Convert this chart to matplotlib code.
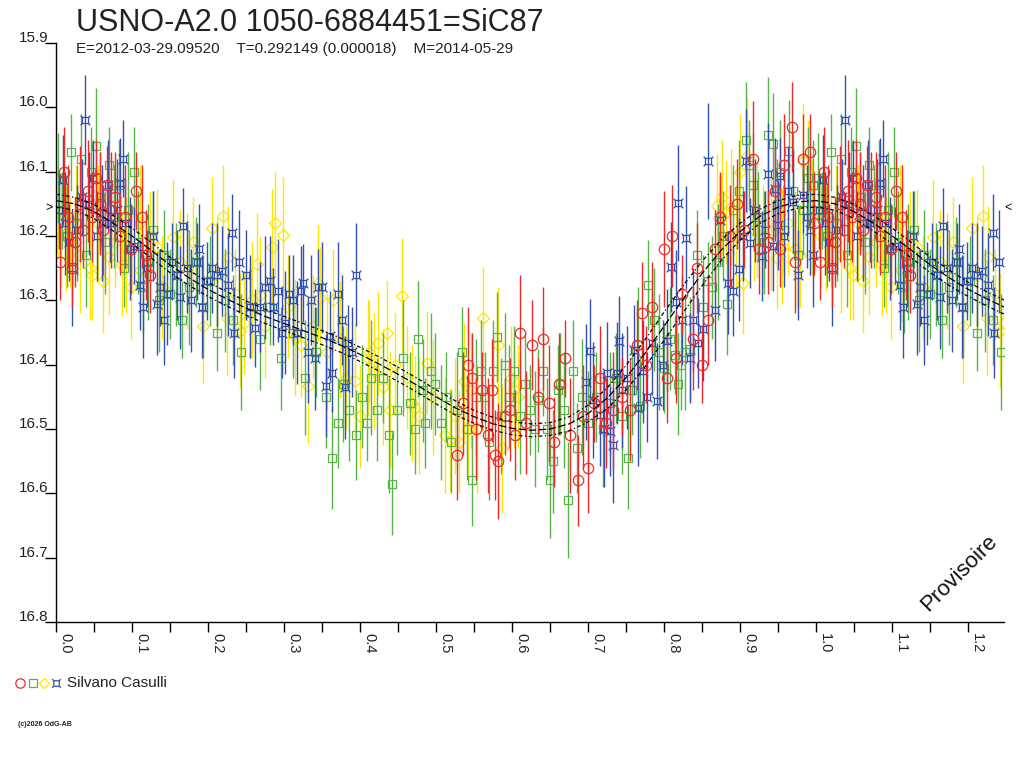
import numpy as np
import matplotlib
matplotlib.use("Agg")
import matplotlib.pyplot as plt
from matplotlib.path import Path
from matplotlib.lines import Line2D
from matplotlib import transforms

plt.rcParams['font.family'] = ['Liberation Sans', 'DejaVu Sans']

TITLE = "USNO-A2.0 1050-6884451=SiC87"
SUBTITLE = "E=2012-03-29.09520    T=0.292149 (0.000018)    M=2014-05-29"
OBSERVER = "Silvano Casulli"

# observations: (phase, magnitude, error)
red_obs = [
    (0.005, 16.24, 0.06), (0.010, 16.10, 0.07), (0.016, 16.17, 0.08), (0.021, 16.25, 0.06),
    (0.025, 16.21, 0.07), (0.031, 16.15, 0.09), (0.036, 16.19, 0.06), (0.042, 16.13, 0.08),
    (0.047, 16.17, 0.07), (0.052, 16.11, 0.06), (0.058, 16.15, 0.08), (0.062, 16.19, 0.07),
    (0.067, 16.12, 0.06), (0.072, 16.16, 0.09), (0.078, 16.14, 0.07), (0.084, 16.20, 0.06),
    (0.091, 16.17, 0.08), (0.099, 16.22, 0.07), (0.105, 16.13, 0.06), (0.113, 16.17, 0.08),
    (0.118, 16.23, 0.07), (0.123, 16.26, 0.06),
    (0.528, 16.54, 0.07), (0.535, 16.46, 0.08), (0.542, 16.40, 0.09), (0.547, 16.42, 0.07),
    (0.553, 16.50, 0.08), (0.561, 16.44, 0.06), (0.568, 16.51, 0.09), (0.574, 16.44, 0.08),
    (0.578, 16.54, 0.07), (0.582, 16.55, 0.09), (0.590, 16.48, 0.06), (0.597, 16.47, 0.08),
    (0.604, 16.51, 0.07), (0.611, 16.35, 0.09), (0.618, 16.49, 0.08), (0.626, 16.37, 0.07),
    (0.634, 16.45, 0.06), (0.641, 16.36, 0.08), (0.648, 16.46, 0.09), (0.655, 16.52, 0.07),
    (0.662, 16.43, 0.08), (0.669, 16.39, 0.06), (0.676, 16.51, 0.09), (0.686, 16.58, 0.07),
    (0.693, 16.48, 0.08), (0.700, 16.56, 0.07), (0.708, 16.46, 0.06), (0.716, 16.42, 0.08),
    (0.724, 16.49, 0.07), (0.733, 16.47, 0.09), (0.745, 16.45, 0.06), (0.755, 16.47, 0.08),
    (0.764, 16.37, 0.07), (0.771, 16.32, 0.08), (0.776, 16.40, 0.06), (0.784, 16.31, 0.07),
    (0.800, 16.22, 0.09), (0.804, 16.42, 0.07), (0.810, 16.20, 0.08), (0.815, 16.39, 0.07),
    (0.823, 16.29, 0.06), (0.838, 16.36, 0.08), (0.843, 16.25, 0.07), (0.850, 16.40, 0.06),
    (0.858, 16.33, 0.07),
    (0.867, 16.22, 0.06), (0.874, 16.17, 0.07), (0.887, 16.20, 0.08), (0.896, 16.15, 0.07),
    (0.905, 16.19, 0.06), (0.917, 16.08, 0.09), (0.925, 16.22, 0.07), (0.937, 16.21, 0.08),
    (0.946, 16.13, 0.07), (0.953, 16.22, 0.06), (0.958, 16.09, 0.08), (0.968, 16.03, 0.07),
    (0.972, 16.24, 0.08), (0.983, 16.08, 0.07), (0.992, 16.07, 0.06), (0.997, 16.18, 0.08),
]

green_obs = [
    (0.002, 16.11, 0.07), (0.008, 16.16, 0.06), (0.014, 16.20, 0.08), (0.020, 16.07, 0.06),
    (0.027, 16.18, 0.09), (0.033, 16.08, 0.07), (0.040, 16.23, 0.08), (0.046, 16.10, 0.07),
    (0.052, 16.06, 0.09), (0.058, 16.14, 0.07), (0.064, 16.21, 0.08), (0.070, 16.09, 0.06),
    (0.076, 16.17, 0.08), (0.083, 16.12, 0.07), (0.089, 16.25, 0.06), (0.095, 16.16, 0.09),
    (0.102, 16.10, 0.07), (0.108, 16.21, 0.08), (0.115, 16.28, 0.07), (0.121, 16.24, 0.09),
    (0.128, 16.19, 0.06), (0.135, 16.30, 0.08), (0.142, 16.23, 0.07), (0.150, 16.29, 0.07),
    (0.158, 16.26, 0.08), (0.166, 16.33, 0.06), (0.175, 16.28, 0.09), (0.184, 16.24, 0.07),
    (0.193, 16.31, 0.08), (0.202, 16.27, 0.07), (0.212, 16.35, 0.06), (0.222, 16.30, 0.08),
    (0.233, 16.33, 0.07), (0.243, 16.38, 0.09),
    (0.255, 16.32, 0.07), (0.268, 16.36, 0.08), (0.281, 16.31, 0.06), (0.296, 16.39, 0.08),
    (0.312, 16.35, 0.07), (0.328, 16.42, 0.09), (0.342, 16.38, 0.07), (0.355, 16.45, 0.08),
    (0.363, 16.545, 0.08), (0.371, 16.49, 0.07), (0.378, 16.43, 0.09), (0.386, 16.47, 0.08),
    (0.394, 16.51, 0.07), (0.402, 16.45, 0.08), (0.409, 16.49, 0.06), (0.415, 16.42, 0.09),
    (0.422, 16.47, 0.08), (0.430, 16.42, 0.07), (0.438, 16.51, 0.09), (0.442, 16.585, 0.08),
    (0.449, 16.47, 0.07), (0.457, 16.39, 0.09), (0.465, 16.46, 0.08), (0.472, 16.50, 0.07),
    (0.476, 16.36, 0.09), (0.483, 16.44, 0.08), (0.486, 16.49, 0.07), (0.493, 16.41, 0.09),
    (0.499, 16.43, 0.08),
    (0.506, 16.49, 0.09), (0.513, 16.45, 0.07), (0.520, 16.52, 0.08), (0.527, 16.47, 0.09),
    (0.534, 16.38, 0.07), (0.540, 16.50, 0.08), (0.547, 16.58, 0.07), (0.553, 16.45, 0.09),
    (0.559, 16.41, 0.08), (0.564, 16.45, 0.07), (0.570, 16.52, 0.09), (0.575, 16.41, 0.08),
    (0.580, 16.357, 0.07), (0.586, 16.48, 0.09), (0.590, 16.40, 0.08), (0.596, 16.45, 0.08),
    (0.603, 16.41, 0.07), (0.610, 16.48, 0.09), (0.617, 16.43, 0.08), (0.624, 16.47, 0.07),
    (0.630, 16.50, 0.09), (0.634, 16.455, 0.08), (0.640, 16.41, 0.07), (0.646, 16.50, 0.08),
    (0.650, 16.58, 0.09), (0.654, 16.55, 0.08), (0.660, 16.44, 0.07), (0.663, 16.43, 0.08),
    (0.668, 16.47, 0.09), (0.674, 16.61, 0.09), (0.680, 16.41, 0.08), (0.685, 16.53, 0.07),
    (0.692, 16.45, 0.09), (0.700, 16.49, 0.08), (0.710, 16.45, 0.07), (0.720, 16.50, 0.09),
    (0.729, 16.46, 0.08), (0.737, 16.42, 0.07), (0.745, 16.48, 0.09), (0.753, 16.545, 0.08),
    (0.758, 16.44, 0.07), (0.766, 16.37, 0.09),
    (0.768, 16.465, 0.08), (0.779, 16.276, 0.07), (0.786, 16.33, 0.08), (0.793, 16.38, 0.09),
    (0.800, 16.405, 0.07), (0.808, 16.36, 0.08), (0.814, 16.385, 0.06), (0.818, 16.43, 0.08),
    (0.822, 16.40, 0.07), (0.828, 16.38, 0.09), (0.834, 16.375, 0.08), (0.843, 16.23, 0.07),
    (0.851, 16.31, 0.08), (0.858, 16.27, 0.06), (0.863, 16.28, 0.08), (0.871, 16.24, 0.09),
    (0.878, 16.20, 0.07), (0.883, 16.305, 0.08), (0.891, 16.16, 0.07), (0.899, 16.13, 0.08),
    (0.907, 16.05, 0.09), (0.912, 16.09, 0.07), (0.917, 16.12, 0.08), (0.924, 16.17, 0.07),
    (0.931, 16.21, 0.08), (0.937, 16.043, 0.09), (0.943, 16.057, 0.08), (0.948, 16.15, 0.07),
    (0.953, 16.10, 0.08), (0.958, 16.19, 0.07), (0.964, 16.068, 0.08), (0.970, 16.13, 0.09),
    (0.976, 16.23, 0.08), (0.982, 16.16, 0.07), (0.989, 16.11, 0.08), (0.996, 16.12, 0.07),
]

yellow_obs = [
    (0.003, 16.163, 0.07), (0.006, 16.20, 0.08), (0.013, 16.195, 0.09), (0.019, 16.21, 0.07),
    (0.026, 16.17, 0.08), (0.032, 16.23, 0.09), (0.045, 16.25, 0.08), (0.048, 16.26, 0.07),
    (0.055, 16.18, 0.09), (0.062, 16.27, 0.08), (0.070, 16.233, 0.09), (0.078, 16.21, 0.07),
    (0.087, 16.245, 0.08), (0.092, 16.23, 0.09), (0.098, 16.28, 0.08), (0.110, 16.18, 0.09),
    (0.111, 16.253, 0.08), (0.124, 16.20, 0.07), (0.133, 16.217, 0.09), (0.140, 16.28, 0.08),
    (0.154, 16.202, 0.09), (0.163, 16.24, 0.08), (0.172, 16.255, 0.09), (0.180, 16.21, 0.07),
    (0.193, 16.34, 0.09), (0.205, 16.188, 0.08), (0.212, 16.26, 0.09), (0.220, 16.169, 0.08),
    (0.225, 16.328, 0.09), (0.226, 16.233, 0.08), (0.235, 16.29, 0.07), (0.242, 16.347, 0.09),
    (0.247, 16.335, 0.08),
    (0.258, 16.30, 0.09), (0.264, 16.244, 0.08), (0.268, 16.292, 0.09), (0.275, 16.34, 0.08),
    (0.284, 16.217, 0.09), (0.288, 16.18, 0.08), (0.299, 16.199, 0.09), (0.305, 16.31, 0.08),
    (0.315, 16.357, 0.09), (0.322, 16.37, 0.08), (0.332, 16.433, 0.09), (0.338, 16.34, 0.08),
    (0.345, 16.273, 0.09), (0.347, 16.297, 0.08), (0.356, 16.38, 0.09), (0.365, 16.30, 0.08),
    (0.374, 16.36, 0.09), (0.382, 16.42, 0.08), (0.393, 16.425, 0.09), (0.400, 16.48, 0.08),
    (0.410, 16.39, 0.09), (0.412, 16.38, 0.08), (0.418, 16.41, 0.09), (0.424, 16.367, 0.08),
    (0.430, 16.435, 0.09), (0.435, 16.35, 0.08), (0.440, 16.47, 0.09), (0.446, 16.40, 0.08),
    (0.455, 16.293, 0.09), (0.462, 16.42, 0.08), (0.468, 16.46, 0.09), (0.472, 16.467, 0.08),
    (0.478, 16.48, 0.09), (0.488, 16.397, 0.08), (0.496, 16.45, 0.09),
    (0.512, 16.51, 0.09), (0.518, 16.517, 0.08), (0.525, 16.48, 0.09), (0.530, 16.52, 0.08),
    (0.537, 16.426, 0.09), (0.542, 16.50, 0.08), (0.546, 16.44, 0.09), (0.554, 16.50, 0.10),
    (0.562, 16.328, 0.08), (0.582, 16.37, 0.09), (0.587, 16.53, 0.10), (0.598, 16.42, 0.08),
    (0.603, 16.44, 0.09), (0.608, 16.45, 0.08),
    (0.870, 16.153, 0.08), (0.876, 16.14, 0.09), (0.881, 16.163, 0.08), (0.888, 16.155, 0.09),
    (0.894, 16.20, 0.08), (0.900, 16.10, 0.09), (0.904, 16.273, 0.08), (0.909, 16.076, 0.09),
    (0.918, 16.19, 0.08), (0.922, 16.175, 0.09), (0.930, 16.20, 0.08), (0.940, 16.194, 0.09),
    (0.949, 16.234, 0.08), (0.955, 16.215, 0.09), (0.963, 16.18, 0.08), (0.972, 16.22, 0.09),
    (0.979, 16.23, 0.08), (0.983, 16.083, 0.09), (0.989, 16.10, 0.08), (0.995, 16.17, 0.09),
]

blue_obs = [
    (0.004, 16.16, 0.06), (0.009, 16.113, 0.07), (0.012, 16.18, 0.08), (0.017, 16.21, 0.06),
    (0.021, 16.25, 0.09), (0.027, 16.19, 0.07), (0.034, 16.14, 0.06), (0.038, 16.02, 0.07),
    (0.043, 16.15, 0.08), (0.049, 16.11, 0.06), (0.054, 16.20, 0.07), (0.058, 16.165, 0.06),
    (0.061, 16.18, 0.09), (0.068, 16.12, 0.07), (0.071, 16.18, 0.06), (0.080, 16.16, 0.08),
    (0.084, 16.118, 0.07), (0.088, 16.08, 0.06), (0.091, 16.18, 0.07), (0.097, 16.22, 0.08),
    (0.103, 16.215, 0.06), (0.110, 16.276, 0.07), (0.114, 16.31, 0.08), (0.120, 16.25, 0.06),
    (0.127, 16.20, 0.07), (0.133, 16.305, 0.08), (0.137, 16.28, 0.06), (0.142, 16.33, 0.07),
    (0.146, 16.29, 0.08), (0.152, 16.24, 0.06), (0.159, 16.26, 0.07), (0.163, 16.295, 0.08),
    (0.167, 16.185, 0.06), (0.172, 16.25, 0.07), (0.178, 16.30, 0.08), (0.185, 16.24, 0.06),
    (0.188, 16.22, 0.07), (0.192, 16.31, 0.08), (0.198, 16.27, 0.06), (0.205, 16.25, 0.07),
    (0.212, 16.26, 0.08), (0.218, 16.255, 0.07), (0.226, 16.276, 0.08), (0.232, 16.195, 0.06),
    (0.234, 16.35, 0.07), (0.241, 16.24, 0.08),
    (0.250, 16.26, 0.07), (0.255, 16.31, 0.08), (0.262, 16.343, 0.06), (0.268, 16.31, 0.07),
    (0.275, 16.28, 0.08), (0.282, 16.27, 0.07), (0.286, 16.31, 0.06), (0.292, 16.285, 0.08),
    (0.297, 16.35, 0.07), (0.301, 16.335, 0.08), (0.306, 16.29, 0.06), (0.312, 16.30, 0.07),
    (0.317, 16.35, 0.08), (0.322, 16.285, 0.07), (0.325, 16.273, 0.06), (0.331, 16.38, 0.08),
    (0.336, 16.30, 0.07), (0.341, 16.39, 0.08), (0.345, 16.28, 0.06), (0.350, 16.28, 0.07),
    (0.355, 16.433, 0.08), (0.360, 16.356, 0.07), (0.363, 16.413, 0.06), (0.371, 16.29, 0.08),
    (0.376, 16.33, 0.07), (0.380, 16.435, 0.08), (0.384, 16.367, 0.06), (0.389, 16.38, 0.07),
    (0.395, 16.26, 0.08),
    (0.697, 16.427, 0.09), (0.703, 16.378, 0.08), (0.706, 16.455, 0.09), (0.716, 16.478, 0.08),
    (0.721, 16.50, 0.09), (0.725, 16.413, 0.08), (0.729, 16.503, 0.07), (0.733, 16.525, 0.09),
    (0.738, 16.413, 0.08), (0.740, 16.363, 0.07), (0.744, 16.44, 0.09), (0.751, 16.42, 0.08),
    (0.760, 16.377, 0.07), (0.766, 16.468, 0.09), (0.772, 16.41, 0.08), (0.778, 16.45, 0.07),
    (0.784, 16.367, 0.08), (0.790, 16.457, 0.09), (0.798, 16.40, 0.07), (0.804, 16.363, 0.08),
    (0.809, 16.248, 0.07), (0.815, 16.302, 0.08), (0.818, 16.149, 0.09), (0.824, 16.33, 0.07),
    (0.829, 16.203, 0.08), (0.834, 16.39, 0.07), (0.838, 16.33, 0.08), (0.845, 16.367, 0.07),
    (0.851, 16.345, 0.08),
    (0.858, 16.083, 0.09), (0.867, 16.315, 0.08), (0.874, 16.175, 0.07), (0.884, 16.273, 0.08),
    (0.891, 16.285, 0.07), (0.899, 16.252, 0.08), (0.904, 16.20, 0.07), (0.908, 16.083, 0.08),
    (0.913, 16.211, 0.07), (0.920, 16.16, 0.08), (0.929, 16.231, 0.07), (0.933, 16.19, 0.06),
    (0.937, 16.104, 0.08), (0.943, 16.215, 0.07), (0.946, 16.127, 0.08), (0.950, 16.183, 0.07),
    (0.953, 16.107, 0.06), (0.958, 16.20, 0.08), (0.963, 16.13, 0.07), (0.970, 16.147, 0.08),
    (0.976, 16.26, 0.07), (0.983, 16.136, 0.06), (0.988, 16.17, 0.08), (0.992, 16.19, 0.07),
    (0.996, 16.23, 0.08),
]

# fitted light curve (phase, mag, uncertainty)
fit_phase = [0.000, 0.025, 0.050, 0.075, 0.100, 0.125, 0.150, 0.175, 0.200, 0.225,
             0.250, 0.275, 0.300, 0.325, 0.350, 0.375, 0.400, 0.425, 0.450, 0.475,
             0.500, 0.525, 0.550, 0.575, 0.600, 0.625, 0.650, 0.675, 0.700, 0.725,
             0.750, 0.775, 0.800, 0.825, 0.850, 0.875, 0.900, 0.925, 0.950, 0.975]
fit_mag = [16.145, 16.150, 16.162, 16.180, 16.200, 16.222, 16.245, 16.265, 16.283, 16.298,
           16.312, 16.325, 16.336, 16.347, 16.358, 16.370, 16.384, 16.399, 16.415, 16.432,
           16.450, 16.467, 16.481, 16.492, 16.499, 16.502, 16.500, 16.492, 16.476, 16.452,
           16.420, 16.382, 16.340, 16.298, 16.258, 16.222, 16.193, 16.170, 16.155, 16.147]
fit_err = [0.010, 0.010, 0.011, 0.012, 0.012, 0.012, 0.012, 0.012, 0.011, 0.011,
           0.011, 0.011, 0.011, 0.011, 0.011, 0.011, 0.011, 0.011, 0.011, 0.011,
           0.011, 0.011, 0.010, 0.010, 0.010, 0.010, 0.010, 0.011, 0.013, 0.016,
           0.019, 0.021, 0.022, 0.021, 0.019, 0.016, 0.013, 0.011, 0.010, 0.010]
mean_max = 16.157


def unfold(obs):
    # phase diagram is shown from 0 to 1.25: repeat the start of the cycle
    ph = np.array([o[0] for o in obs])
    mg = np.array([o[1] for o in obs])
    er = np.array([o[2] for o in obs])
    rep = ph < 0.25
    return (np.concatenate([ph, ph[rep] + 1]),
            np.concatenate([mg, mg[rep]]),
            np.concatenate([er, er[rep]]))


# blue "currency" marker: small square with short diagonal ears
ear = 0.8
sq = 0.5
verts = [(-sq, -sq), (sq, -sq), (sq, sq), (-sq, sq), (-sq, -sq),
         (sq, sq), (ear, ear), (-sq, sq), (-ear, ear),
         (-sq, -sq), (-ear, -ear), (sq, -sq), (ear, -ear)]
codes = [Path.MOVETO, Path.LINETO, Path.LINETO, Path.LINETO, Path.CLOSEPOLY,
         Path.MOVETO, Path.LINETO, Path.MOVETO, Path.LINETO,
         Path.MOVETO, Path.LINETO, Path.MOVETO, Path.LINETO]
blue_marker = Path(verts, codes)

series = [
    (yellow_obs, '#FFE600', 'D', 6.0),
    (green_obs, '#58B447', 's', 6.3),
    (blue_obs, '#3350AE', blue_marker, 7.0),
    (red_obs, '#F02828', 'o', 7.5),
]

fig = plt.figure(figsize=(10.24, 7.68), dpi=100)
ax = fig.add_axes([56 / 1024, 1 - 622 / 768, 948 / 1024, 579 / 768])

for obs, col, mk, ms in series:
    ph, mg, er = unfold(obs)
    ax.errorbar(ph, mg, yerr=er, fmt='none', ecolor=col, elinewidth=1.0, capsize=0)
    ax.plot(ph, mg, linestyle='none', marker=mk, markersize=ms,
            markerfacecolor='none', markeredgecolor=col, markeredgewidth=0.9)

fp = np.array(fit_phase + [p + 1 for p in fit_phase] + [2.0])
fm = np.array(fit_mag + fit_mag + [fit_mag[0]])
fe = np.array(fit_err + fit_err + [fit_err[0]])
ax.plot(fp, fm, color='black', lw=0.9, ls=(0, (6, 2)))
ax.plot(fp, fm - fe, color='black', lw=0.9, ls=(0, (3, 2, 1, 2)))
ax.plot(fp, fm + fe, color='black', lw=0.9, ls=(0, (3, 2, 1, 2)))

ax.set_xlim(0, 1.247)
ax.set_ylim(16.8, 15.9)
ax.spines['top'].set_visible(False)
ax.spines['right'].set_visible(False)
for s in ('left', 'bottom'):
    ax.spines[s].set_linewidth(1.0)

# x ticks every 0.05, labels every 0.1 written downwards
ax.set_xticks(np.arange(0, 1.25, 0.05))
ax.tick_params(axis='x', direction='out', length=7, width=1.0, labelbottom=False)
xt = transforms.offset_copy(ax.get_xaxis_transform(), fig=fig, x=2, y=-11, units='dots')
for i in range(13):
    ax.text(i * 0.1, 0, "%.1f" % (i * 0.1), transform=xt, rotation=-90,
            ha='left', va='top', fontsize=10.5, color='#222222')

# y ticks with labels sitting on the tick line
yticks = np.arange(15.9, 16.81, 0.1)
ax.set_yticks(yticks)
ax.tick_params(axis='y', direction='out', length=8, width=1.0, labelleft=False)
yt = transforms.offset_copy(ax.get_yaxis_transform(), fig=fig, x=-8, y=1, units='dots')
for v in yticks:
    ax.text(0, v, "%.1f" % v, transform=yt, ha='right', va='baseline',
            fontsize=11, color='#222222')

# maximum level markers
ax.text(-0.004, mean_max, ">", ha='right', va='center', fontsize=9, clip_on=False)
ax.text(1.0, mean_max, "<", transform=ax.get_yaxis_transform(), ha='left', va='center',
        fontsize=9, clip_on=False)

ax.text(0.953, 0.085, "Provisoire", transform=ax.transAxes, rotation=45,
        ha='center', va='center', fontsize=16, color='#111111')

fig.text(76 / 1024, 1 - 31 / 768, TITLE, fontsize=22, color='#222222', va='baseline')
fig.text(76 / 1024, 1 - 53 / 768, SUBTITLE, fontsize=11, color='#222222', va='baseline')

# legend below the plot
leg_y = 1 - 683 / 768
for (obs, col, mk, ms), lx in zip([series[3], series[1], series[0], series[2]], [20, 33, 44, 56]):
    fig.add_artist(Line2D([lx / 1024], [leg_y], transform=fig.transFigure, marker=mk,
                          markersize=ms * 0.9, markerfacecolor='none',
                          markeredgecolor=col, markeredgewidth=0.9, linestyle='none'))
fig.text(67 / 1024, leg_y, OBSERVER, fontsize=11, va='center', color='#222222')
fig.text(18 / 1024, 1 - 725 / 768, "(c)2026 OdG-AB", fontsize=5, va='center',
         fontweight='bold', color='#222222')

fig.savefig("out.png", dpi=100)
